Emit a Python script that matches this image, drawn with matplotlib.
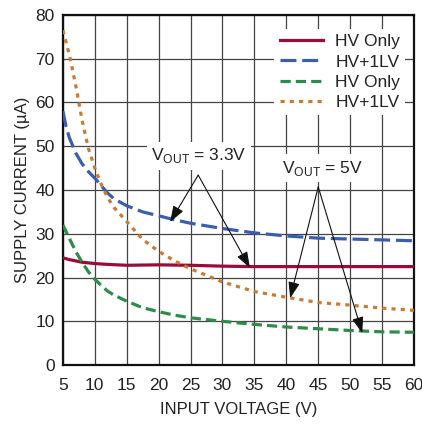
import matplotlib
matplotlib.use('Agg')
import matplotlib.pyplot as plt

# ── Style ─────────────────────────────────────────────────────────────────────
plt.rcParams['font.family'] = ['Liberation Sans', 'DejaVu Sans']
TEXT_COLOR = '#222222'
GRID_COLOR = '#444444'

RED    = '#9c0b37'
BLUE   = '#3a5db0'
GREEN  = '#2e8b4a'
ORANGE = '#c97a33'

# ── Data ──────────────────────────────────────────────────────────────────────
red_x = [5, 6, 7, 8, 10, 12, 15, 20, 25, 30, 35, 40, 45, 50, 55, 60]
red_y = [24.5, 24.1, 23.8, 23.5, 23.2, 23.0, 22.8, 22.9, 22.8, 22.6, 22.5,
         22.5, 22.5, 22.5, 22.5, 22.5]

blue_x = [5, 5.5, 6, 7, 8, 9, 10, 12, 13, 15, 17.5, 20, 22.5, 25, 30, 35,
          40, 45, 50, 55, 60]
blue_y = [58, 54.5, 52, 48.5, 46, 44.2, 42.7, 39.3, 38, 36.4, 35, 34.1, 33.2,
          32.4, 31.2, 30.2, 29.5, 29.0, 28.8, 28.6, 28.4]

green_x = [5, 6, 7, 8, 9, 10, 11, 12, 13, 15, 17.5, 20, 22.5, 25, 30, 35,
           40, 45, 50, 55, 60]
green_y = [32, 29, 26, 23.5, 21.3, 19.6, 18.2, 16.9, 16, 14.6, 13.1, 12.2,
           11.4, 10.8, 10.0, 9.3, 8.7, 8.3, 7.9, 7.6, 7.5]

orange_x = [5, 6, 7, 8, 9, 10, 11, 12, 13, 15, 17.5, 20, 22.5, 25, 30, 35,
            40, 45, 50, 55, 60]
orange_y = [76.5, 71, 64, 56, 49.5, 45, 41.3, 38.3, 36, 32.8, 28.7, 26, 23.8,
            22, 19, 16.8, 15.5, 14.3, 13.7, 13, 12.5]

labels = ['HV Only', 'HV+1LV', 'HV Only', 'HV+1LV']
x_ticks = list(range(5, 61, 5))
y_ticks = list(range(0, 81, 10))

# ── Figure ────────────────────────────────────────────────────────────────────
fig = plt.figure(figsize=(4.22, 4.26), dpi=100)
ax = fig.add_axes([0.149, 0.143, 0.832, 0.822])

ax.plot(red_x, red_y, color=RED, lw=2.3, label=labels[0], zorder=3)
ax.plot(blue_x, blue_y, color=BLUE, lw=2.3, dashes=(5, 1.8), label=labels[1], zorder=3)
ax.plot(green_x, green_y, color=GREEN, lw=2.3, dashes=(3.2, 1.6), label=labels[2], zorder=3)
ax.plot(orange_x, orange_y, color=ORANGE, lw=2.3, dashes=(1.3, 1.6), label=labels[3], zorder=3)

ax.set_xlim(5, 60)
ax.set_ylim(0, 80)
ax.set_xticks(x_ticks)
ax.set_yticks(y_ticks)
ax.tick_params(length=0, labelsize=12.5, colors=TEXT_COLOR)
ax.tick_params(axis='x', pad=9)
ax.tick_params(axis='y', pad=6)
ax.grid(True, color=GRID_COLOR, lw=0.9)
ax.set_axisbelow(True)
for spine in ax.spines.values():
    spine.set_color('#111111')
    spine.set_linewidth(1.6)

ax.set_xlabel('INPUT VOLTAGE (V)', fontsize=12, color=TEXT_COLOR, labelpad=7)
ax.set_ylabel('SUPPLY CURRENT (\u00b5A)', fontsize=12, color=TEXT_COLOR, labelpad=4)

leg = ax.legend(loc='upper right', bbox_to_anchor=(1.0, 0.985), fontsize=12.5,
                frameon=True, facecolor='white', edgecolor='none', framealpha=1,
                handlelength=2.5, handletextpad=0.7, labelspacing=0.3,
                borderpad=0.3, fancybox=False)
for t in leg.get_texts():
    t.set_color(TEXT_COLOR)

# ── Annotations ───────────────────────────────────────────────────────────────
box = dict(boxstyle='square,pad=0.25', facecolor='white', edgecolor='none')
arrow = dict(arrowstyle='-|>,head_length=0.7,head_width=0.25', color='#111111',
             lw=0.8, mutation_scale=14, shrinkA=0, shrinkB=0)

ax.text(26.3, 47.8, r'V$_{\mathregular{OUT}}$ = 3.3V', fontsize=12.5, color=TEXT_COLOR,
        ha='center', va='center', bbox=box, zorder=5)
ax.annotate('', xy=(21.8, 32.7), xytext=(26.2, 43.4), arrowprops=arrow, zorder=4)
ax.annotate('', xy=(34.3, 22.2), xytext=(26.2, 43.4), arrowprops=arrow, zorder=4)

ax.text(45.6, 45.0, r'V$_{\mathregular{OUT}}$ = 5V', fontsize=12.5, color=TEXT_COLOR,
        ha='center', va='center', bbox=box, zorder=5)
ax.annotate('', xy=(40.6, 15.3), xytext=(45.0, 40.7), arrowprops=arrow, zorder=4)
ax.annotate('', xy=(51.9, 7.3), xytext=(45.0, 40.7), arrowprops=arrow, zorder=4)

fig.savefig('out.png', dpi=100)
